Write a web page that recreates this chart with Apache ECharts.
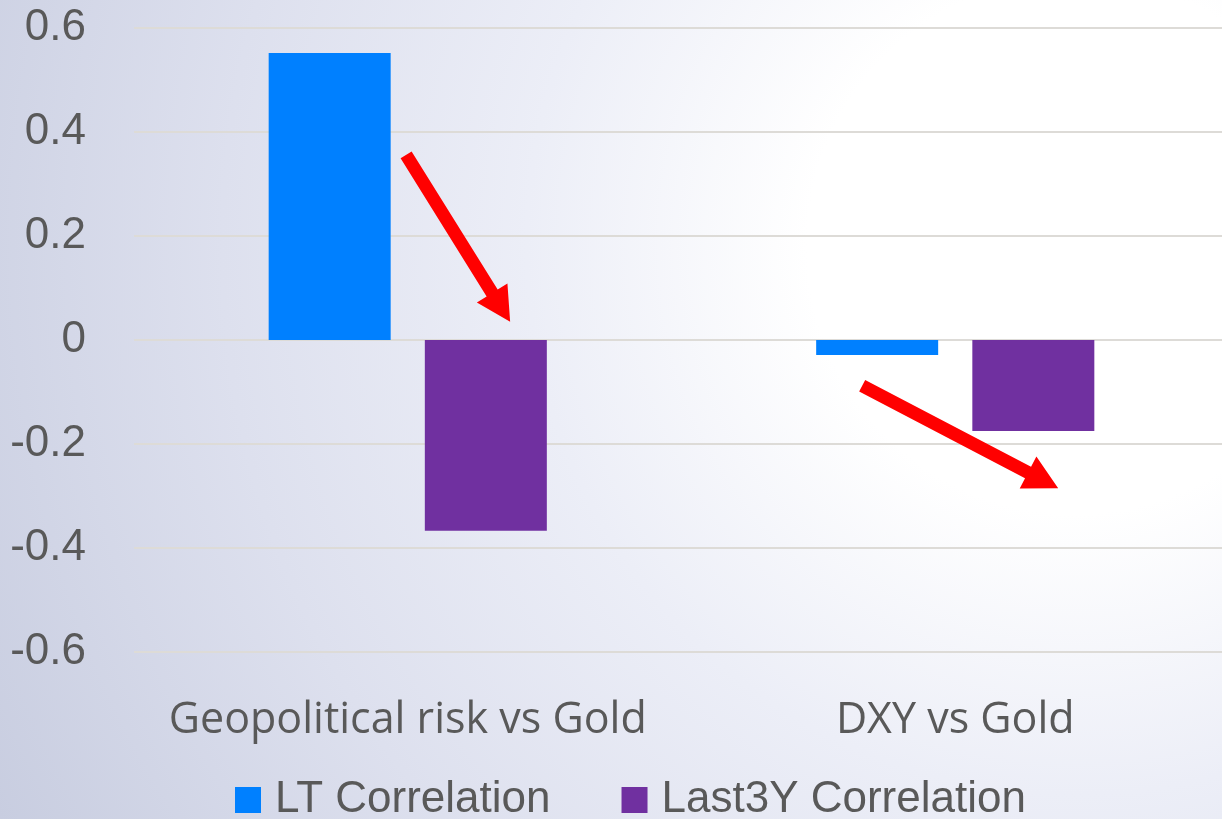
<!DOCTYPE html>
<html>
<head>
<meta charset="utf-8">
<script src="https://cdn.jsdelivr.net/npm/echarts@6/dist/echarts.min.js"></script>
<style>
  html, body { margin: 0; padding: 0; width: 1222px; height: 819px; overflow: hidden; }
  body {
    background: radial-gradient(circle farthest-corner at 88% 30%, #ffffff 0%, #ffffff 22%, #eceef7 45%, #dde0ee 70%, #c8cde0 100%);
  }
  /* plot runs slightly past the right edge of the window */
  #chart { width: 1229px; height: 819px; }
</style>
</head>
<body>
<div id="chart"></div>
<script>
// Correlation of gold with geopolitical risk and the dollar index
const categories = ['Geopolitical risk vs Gold', 'DXY vs Gold'];
const ltCorrelation = [0.552, -0.029];
const last3yCorrelation = [-0.367, -0.175];
const seriesNames = ['LT Correlation', 'Last3Y Correlation'];

// Annotation arrows: [tailX, tailY, tipX, tipY] in (category span, value) units
const arrows = [
  [0.497, 0.356, 0.687, 0.035],
  [1.330, -0.088, 1.688, -0.285]
];

const chart = echarts.init(document.getElementById('chart'), null, { renderer: 'canvas' });

chart.setOption({
  backgroundColor: 'transparent',
  animation: false,
  grid: { left: 134, right: 0, top: 28, bottom: 167, containLabel: false },
  legend: {
    data: seriesNames,
    left: 230,
    top: 773,
    itemWidth: 26,
    itemHeight: 26,
    itemGap: 71,
    icon: 'rect',
    textStyle: {
      fontFamily: '"Liberation Sans Narrow", "Liberation Sans", sans-serif',
      fontSize: 44,
      color: '#595959',
      padding: [0, 0, 0, 9]
    }
  },
  xAxis: [
    {
      type: 'category',
      data: categories,
      axisLine: { show: false },
      axisTick: { show: false },
      axisLabel: {
        interval: 0,
        fontFamily: '"Open Sans", sans-serif',
        fontSize: 43,
        color: '#595959',
        margin: 47
      }
    },
    { type: 'value', min: 0, max: 2, show: false }
  ],
  yAxis: {
    type: 'value',
    min: -0.6,
    max: 0.6,
    interval: 0.2,
    axisLine: { show: false },
    axisTick: { show: false },
    splitLine: { lineStyle: { color: '#dddbd7', width: 2 } },
    axisLabel: {
      fontFamily: '"Liberation Sans", Arial, sans-serif',
      fontSize: 44,
      color: '#595959',
      margin: 48,
      formatter: v => {
        const r = Math.round(v * 10) / 10;
        return r === 0 ? '0' : String(r);
      }
    }
  },
  series: [
    {
      name: seriesNames[0],
      type: 'bar',
      data: ltCorrelation,
      barWidth: 122,
      barGap: '28%',
      itemStyle: { color: '#0080ff' }
    },
    {
      name: seriesNames[1],
      type: 'bar',
      data: last3yCorrelation,
      barWidth: 122,
      barGap: '28%',
      itemStyle: { color: '#7030a0' }
    }
  ]
});

// Draw the red trend arrows on top of the bars
function arrowShape(a) {
  const p0 = chart.convertToPixel({ xAxisIndex: 1, yAxisIndex: 0 }, [a[0], a[1]]);
  const p1 = chart.convertToPixel({ xAxisIndex: 1, yAxisIndex: 0 }, [a[2], a[3]]);
  const dx = p1[0] - p0[0], dy = p1[1] - p0[1];
  const len = Math.hypot(dx, dy);
  const ux = dx / len, uy = dy / len;
  const nx = -uy, ny = ux;
  const shaft = 6.5, headLen = 34, headHalf = 18;
  const bx = p1[0] - ux * headLen, by = p1[1] - uy * headLen;
  return [
    [p0[0] + nx * shaft, p0[1] + ny * shaft],
    [bx + nx * shaft, by + ny * shaft],
    [bx + nx * headHalf, by + ny * headHalf],
    [p1[0], p1[1]],
    [bx - nx * headHalf, by - ny * headHalf],
    [bx - nx * shaft, by - ny * shaft],
    [p0[0] - nx * shaft, p0[1] - ny * shaft]
  ];
}

chart.setOption({
  graphic: arrows.map((a, i) => ({
    id: 'arrow' + i,
    type: 'polygon',
    z: 100,
    shape: { points: arrowShape(a) },
    style: { fill: '#ff0000' }
  }))
});
</script>
</body>
</html>
